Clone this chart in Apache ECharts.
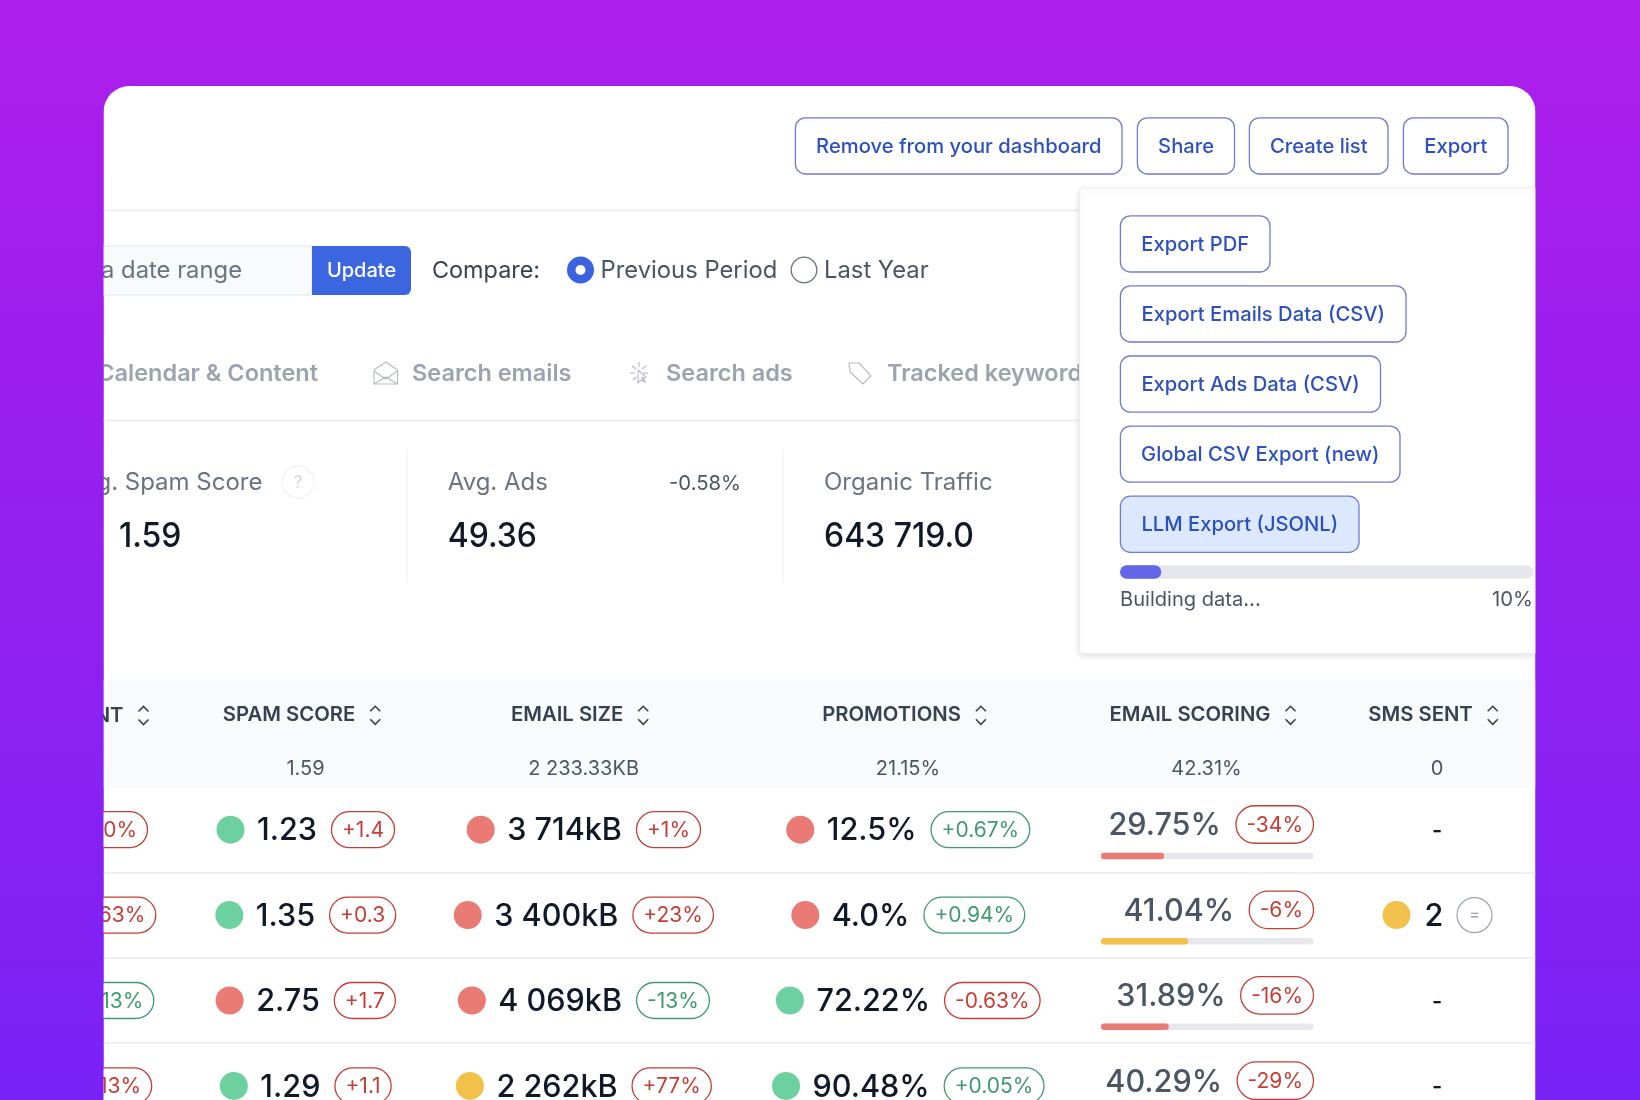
<!DOCTYPE html>
<html>
<head>
<meta charset="utf-8">
<title>Export panel</title>
<script src="https://cdn.jsdelivr.net/npm/echarts@6/dist/echarts.min.js"></script>
<style>
  html, body { margin: 0; padding: 0; }
  #chart { width: 1640px; height: 1100px; }
</style>
</head>
<body>
<div id="chart"></div>
<script>
// table data
const rowNames = ["r1", "r2", "r3", "r4"];
const headers = ["SPAM SCORE", "EMAIL SIZE", "PROMOTIONS", "EMAIL SCORING", "SMS SENT"];
const totals = ["1.59", "2 233.33KB", "21.15%", "42.31%", "0"];

const leadDelta = ["+10%", "+63%", "-13%", "+13%"];

const spamScore = ["1.23", "1.35", "2.75", "1.29"];
const spamDelta = ["+1.4", "+0.3", "+1.7", "+1.1"];
const spamStatus = ["good", "good", "bad", "good"];

const emailSize = ["3 714kB", "3 400kB", "4 069kB", "2 262kB"];
const sizeDelta = ["+1%", "+23%", "-13%", "+77%"];
const sizeStatus = ["bad", "bad", "bad", "warn"];

const promotions = ["12.5%", "4.0%", "72.22%", "90.48%"];
const promoDelta = ["+0.67%", "+0.94%", "-0.63%", "+0.05%"];
const promoStatus = ["bad", "bad", "good", "good"];
const promoDeltaGood = [true, true, false, true];

const scoring = [29.75, 41.04, 31.89, 40.29];
const scoringDelta = ["-34%", "-6%", "-16%", "-29%"];
const scoringStatus = ["bad", "warn", "bad", "warn"];

const smsSent = ["-", "2", "-", "-"];

const exportButtons = ["Export PDF", "Export Emails Data (CSV)", "Export Ads Data (CSV)", "Global CSV Export (new)", "LLM Export (JSONL)"];
const exportProgress = [10];

// layout, in page pixels
const PANEL = { left: 103.5, top: 86, right: 1535.5 };
const colX = [305.5, 583.6, 908, 1206.5, 1437];
const leadRight = [147.5, 155.8, 153.8, 151.7];
const ROW_TOP = 787;
const ROW_H = 85.4;
const scoreRight = 1313.5;
const scoreTrack = 212.5;

const FONT = "Inter";
const statusColor = { good: "#6dd19f", bad: "#e97a74", warn: "#f2c14b" };
const RED = "#c63d35";
const GREEN = "#3f9a70";
const BLUE_TEXT = "#2d4fbf";
const BLUE_LINE = "#7279d6";
const LINE = "#eef0f3";

const measureCtx = document.createElement("canvas").getContext("2d");
function textWidth(text, size, weight) {
  measureCtx.font = weight + " " + size + "px " + FONT;
  return measureCtx.measureText(text).width;
}

function txt(text, x, y, size, fill, weight, align, extra) {
  return Object.assign({
    type: "text",
    x: x,
    y: y,
    style: {
      text: text, fill: fill, fontFamily: FONT, fontSize: size, fontWeight: weight || 400,
      align: align || "left", verticalAlign: "middle",
      textAlign: align || "left", textVerticalAlign: "middle"
    },
    silent: true
  }, extra || {});
}

function box(x, y, w, h, r, fill, stroke, lineWidth, extra) {
  return Object.assign({
    type: "rect",
    shape: { x: x, y: y, width: w, height: h, r: r },
    style: { fill: fill, stroke: stroke || null, lineWidth: lineWidth || 0 },
    silent: true
  }, extra || {});
}

function line(x1, y1, x2, y2, color, width) {
  return {
    type: "line",
    shape: { x1: x1, y1: y1, x2: x2, y2: y2 },
    style: { stroke: color, lineWidth: width || 2 },
    silent: true
  };
}

function icon(paths, color, width) {
  return {
    type: "group",
    silent: true,
    children: paths.map((points) => ({
      type: "polyline",
      shape: { points: points },
      style: { fill: null, stroke: color, lineWidth: width || 1 },
      silent: true
    }))
  };
}

function button(x, y, w, h, label, fill) {
  return [
    box(x + 0.4, y + 0.4, w - 0.4, h - 0.4, 10, fill || "#ffffff", BLUE_LINE, 1.3),
    txt(label, x + w / 2 + 0.3, y + h / 2 + 1.2, 20.2, BLUE_TEXT, 500, "center")
  ];
}

function pill(x, cy, w, h, text, color, size) {
  return [
    { type: "rect", shape: { x: x, y: cy - h / 2, width: w, height: h, r: h / 2 }, style: { fill: "#ffffff", stroke: color, lineWidth: 1.3 } },
    txt(text, x + w / 2, cy + 1, size || 21, color, 400, "center")
  ];
}

// dot + value + pill, centered on its column
function renderStatCell(center, cy, status, value, delta, color) {
  const valueW = textWidth(value, 30.6, 500);
  const pillW = textWidth(delta, 21, 400) + 21;
  const total = 28 + 12.5 + valueW + 14.5 + pillW;
  let x = center - total / 2;
  const out = [{ type: "circle", shape: { cx: x + 14, cy: cy, r: 14 }, style: { fill: statusColor[status] } }];
  x += 40.5;
  out.push(txt(value, x, cy + 1.5, 30.6, "#111827", 500));
  x += valueW + 14.5;
  return out.concat(pill(x, cy, pillW, 36, delta, color));
}

function deltaIsGood(col, row) {
  if (col === 2) return promoDeltaGood[row];
  return columns[col].delta[row][0] === "-";
}

const columns = [
  { value: spamScore, delta: spamDelta, status: spamStatus },
  { value: emailSize, delta: sizeDelta, status: sizeStatus },
  { value: promotions, delta: promoDelta, status: promoStatus }
];

function renderCell(params, api) {
  const col = api.value(0);
  const row = api.value(1);
  const cy = api.coord([0, row])[1];
  let children = [];
  if (col === -1) {
    const w = textWidth(leadDelta[row], 21, 400) + 21;
    children = pill(leadRight[row] - w, cy, w, 36, leadDelta[row], leadDelta[row][0] === "-" ? GREEN : RED);
  } else if (col <= 2) {
    const c = columns[col];
    children = renderStatCell(api.coord([colX[col] - PANEL.left, row])[0], cy, c.status[row], c.value[row], c.delta[row], deltaIsGood(col, row) ? GREEN : RED);
  } else if (col === 3) {
    const right = api.coord([scoreRight - PANEL.left, row])[0];
    const text = scoring[row].toFixed(2) + "%";
    const w = textWidth(scoringDelta[row], 21, 400) + 21;
    const left = right - scoreTrack;
    children = [txt(text, right - w - 15, cy - 3.5, 30.6, "#4b5563", 500, "right")].concat(
      pill(right - w, cy - 5.2, w, 37.5, scoringDelta[row], RED),
      [
        { type: "rect", shape: { x: left, y: cy + 23, width: scoreTrack, height: 6.5, r: 3.25 }, style: { fill: "#e5e7eb" } },
        { type: "rect", shape: { x: left, y: cy + 23, width: scoreTrack * scoring[row] / 100, height: 6.5, r: 3.25 }, style: { fill: statusColor[scoringStatus[row]] } }
      ]
    );
  } else {
    const cx = api.coord([colX[4] - PANEL.left, row])[0];
    if (smsSent[row] === "-") {
      children = [txt("-", cx, cy + 1.5, 22, "#111827", 600, "center")];
    } else {
      const x = cx - 54.5;
      children = [
        { type: "circle", shape: { cx: x + 14, cy: cy, r: 14 }, style: { fill: statusColor.warn } },
        txt(smsSent[row], x + 42, cy + 1.5, 30.6, "#111827", 500),
        { type: "circle", shape: { cx: x + 92, cy: cy, r: 17.5 }, style: { fill: "#ffffff", stroke: "#9ca3af", lineWidth: 1.2 } },
        txt("=", x + 92, cy, 17, "#9ca3af", 400, "center")
      ];
    }
  }
  return { type: "group", children: children };
}

function sortArrows(ax, cy) {
  return icon([
    [[ax - 5, cy - 4], [ax, cy - 9], [ax + 5, cy - 4]],
    [[ax - 5, cy + 4], [ax, cy + 9], [ax + 5, cy + 4]]
  ], "#374151", 1.6);
}

function renderHeader(params, api) {
  const col = api.value(0);
  const cx = api.coord([colX[col] - PANEL.left, 0])[0];
  const headY = api.coord([colX[col] - PANEL.left, 0])[1];
  const totalY = api.coord([colX[col] - PANEL.left, 1])[1];
  const w = textWidth(headers[col], 20.3, 600);
  const x = cx - (w + 26) / 2 - 3.5;
  return {
    type: "group",
    children: [
      txt(headers[col], x, headY, 20.3, "#374151", 600),
      sortArrows(x + w + 20, headY),
      txt(totals[col], cx, totalY, 20, "#4b5563", 400, "center")
    ]
  };
}

const bgGradient = new echarts.graphic.LinearGradient(0, 0, 0, 1, [
  { offset: 0, color: "#ad1eea" },
  { offset: 1, color: "#7a22f6" }
]);

const exportRows = [
  { x: 1120, y: 215.5, w: 150 },
  { x: 1120, y: 285.5, w: 286 },
  { x: 1120, y: 355.6, w: 260.5 },
  { x: 1120, y: 425.7, w: 280 },
  { x: 1120, y: 495.8, w: 239 }
];

const narrow = { scaleX: 0.94 };

const staticShapes = [
  box(PANEL.left, PANEL.top, PANEL.right - PANEL.left, 1100, [26, 26, 0, 0], "#ffffff"),
  ...button(795, 117.5, 327, 56.5, "Remove from your dashboard"),
  ...button(1137, 117.5, 97.5, 56.5, "Share"),
  ...button(1249, 117.5, 139, 56.5, "Create list"),
  ...button(1403, 117.5, 105, 56.5, "Export"),
  line(PANEL.left, 210.5, PANEL.right, 210.5, LINE, 2),

  // date range row
  box(60, 246, 252, 49, [6, 0, 0, 6], "#f8fafc", "#eef0f3", 2),
  txt("Select a date range", 242, 271, 23.8, "#6b7280", 400, "right"),
  box(312, 246, 99, 49, [0, 6, 6, 0], "#3b66e0"),
  txt("Update", 361.5, 270.5, 20, "#ffffff", 500, "center"),
  txt("Compare:", 432, 271, 23.4, "#374151", 400),
  { type: "circle", shape: { cx: 580.5, cy: 270, r: 13.5 }, style: { fill: "#3b63e0" }, silent: true },
  { type: "circle", shape: { cx: 580.5, cy: 270, r: 5 }, style: { fill: "#ffffff" }, silent: true },
  txt("Previous Period", 600.5, 271, 23.8, "#4b5563", 400),
  { type: "circle", shape: { cx: 804, cy: 270, r: 12.8 }, style: { fill: "#ffffff", stroke: "#6b7280", lineWidth: 1.3 }, silent: true },
  txt("Last Year", 824, 271, 23.8, "#4b5563", 400),

  // tabs
  txt("Calendar & Content", 318, 374, 23.5, "#9ca3af", 600, "right"),
  icon([
    [[374, 370], [385.7, 362], [397.5, 370], [397.5, 384], [374, 384], [374, 370]],
    [[374, 371], [385.7, 379], [397.5, 371]],
    [[374, 384], [385.7, 377], [397.5, 384]]
  ], "#b5b9c2", 1.1),
  txt("Search emails", 412, 374, 23.5, "#9ca3af", 600),
  icon([
    [[639, 362], [639, 367]], [[632, 366], [636, 369]], [[646, 366], [642, 369]],
    [[630, 373], [635, 373]], [[648, 373], [643, 373]],
    [[633, 380], [636, 377]], [[645, 380], [642, 377]],
    [[638, 370], [638, 383], [641, 380], [645, 382], [642, 378], [646, 377], [638, 370]]
  ], "#b5b9c2", 1.1),
  txt("Search ads", 666, 374, 23.5, "#9ca3af", 600),
  icon([[[849, 363], [859, 363], [871, 376], [863, 384], [850, 372], [849, 363]]], "#b5b9c2", 1.2),
  txt("Tracked keywords", 887, 374, 23.5, "#9ca3af", 600),
  line(PANEL.left, 420.5, PANEL.right, 420.5, LINE, 2),

  // stat cards
  line(407, 450, 407, 582, "#f3f4f6", 1.5),
  line(783, 450, 783, 582, "#f3f4f6", 1.5),
  txt("Avg. Spam Score", 262.5, 483, 24, "#6b7280", 400, "right"),
  { type: "circle", shape: { cx: 298, cy: 482, r: 16 }, style: { fill: "#ffffff", stroke: "#f3f4f6", lineWidth: 1.5 }, silent: true },
  txt("?", 298, 482.5, 17, "#d1d5db", 400, "center"),
  txt("1.59", 119, 536.5, 34, "#111827", 500, "left", narrow),
  txt("Avg. Ads", 447.7, 483, 24, "#6b7280", 400),
  txt("-0.58%", 741, 484, 20.3, "#4b5563", 400, "right"),
  txt("49.36", 447.7, 536.5, 34, "#111827", 500, "left", narrow),
  txt("Organic Traffic", 824, 483, 24, "#6b7280", 400),
  txt("643 719.0", 824, 536.5, 34, "#111827", 500, "left", narrow),

  // export popup
  box(1079.5, 188, 470, 465.5, 4, "#ffffff", "#eceef1", 1.2, { style: { fill: "#ffffff", stroke: "#eceef1", lineWidth: 1.2, shadowBlur: 6, shadowColor: "rgba(17,24,39,0.13)", shadowOffsetY: 2 } }),
  ...exportRows.flatMap((b, i) => button(b.x, b.y, b.w, 56.5, exportButtons[i], i === 4 ? "#dbe8fd" : "#ffffff")),
  txt("Building data...", 1120, 599.5, 20.1, "#4b5563", 400),
  txt("10%", 1533, 599.5, 20.3, "#4b5563", 400, "right"),

  // header band
  box(PANEL.left, 680, PANEL.right - PANEL.left, 107.5, 0, "#f8fafc"),
  txt("SENT", 123.5, 715.5, 20.3, "#374151", 600, "right"),
  sortArrows(143.5, 715.5),

  // purple edges hide whatever runs past the panel
  box(0, 0, PANEL.left, 1100, 0, bgGradient, null, 0, { z: 100 }),
  box(PANEL.right, 0, 1640 - PANEL.right, 1100, 0, bgGradient, null, 0, { z: 100 })
];

const cells = [];
rowNames.forEach((name, r) => {
  [-1, 0, 1, 2, 3, 4].forEach((c) => cells.push([c, r]));
});

const chart = echarts.init(document.getElementById("chart"));
chart.setOption({
  animation: false,
  backgroundColor: bgGradient,
  graphic: { elements: staticShapes },
  grid: [
    { left: PANEL.left, top: ROW_TOP, width: PANEL.right - PANEL.left, height: ROW_H * 4, outerBoundsMode: "none" },
    { left: PANEL.left, top: 688.5, width: PANEL.right - PANEL.left, height: 107.2, outerBoundsMode: "none" },
    { left: 1120, top: 560, width: 413.3, height: 24, outerBoundsMode: "none" }
  ],
  xAxis: [
    { gridIndex: 0, type: "value", min: 0, max: PANEL.right - PANEL.left, show: false },
    { gridIndex: 1, type: "value", min: 0, max: PANEL.right - PANEL.left, show: false },
    { gridIndex: 2, type: "value", min: 0, max: 100, show: false }
  ],
  yAxis: [
    {
      gridIndex: 0, type: "category", inverse: true, data: rowNames,
      axisLine: { show: false }, axisTick: { show: false }, axisLabel: { show: false },
      splitLine: { show: true, showMinLine: false, lineStyle: { color: LINE, width: 2 } }
    },
    { gridIndex: 1, type: "category", inverse: true, data: ["head", "total"], show: false },
    { gridIndex: 2, type: "category", data: ["progress"], show: false }
  ],
  series: [
    {
      type: "custom", xAxisIndex: 0, yAxisIndex: 0, clip: true, silent: true,
      renderItem: renderCell, data: cells
    },
    {
      type: "custom", xAxisIndex: 1, yAxisIndex: 1, silent: true,
      renderItem: renderHeader, data: headers.map((h, i) => [i, 0])
    },
    {
      type: "bar", xAxisIndex: 2, yAxisIndex: 2, silent: true, barWidth: 13.4,
      data: exportProgress,
      showBackground: true,
      backgroundStyle: { color: "#e5e7eb", borderRadius: 6.7 },
      itemStyle: { color: "#6366e8", borderRadius: 6.7 }
    }
  ]
});
</script>
</body>
</html>
